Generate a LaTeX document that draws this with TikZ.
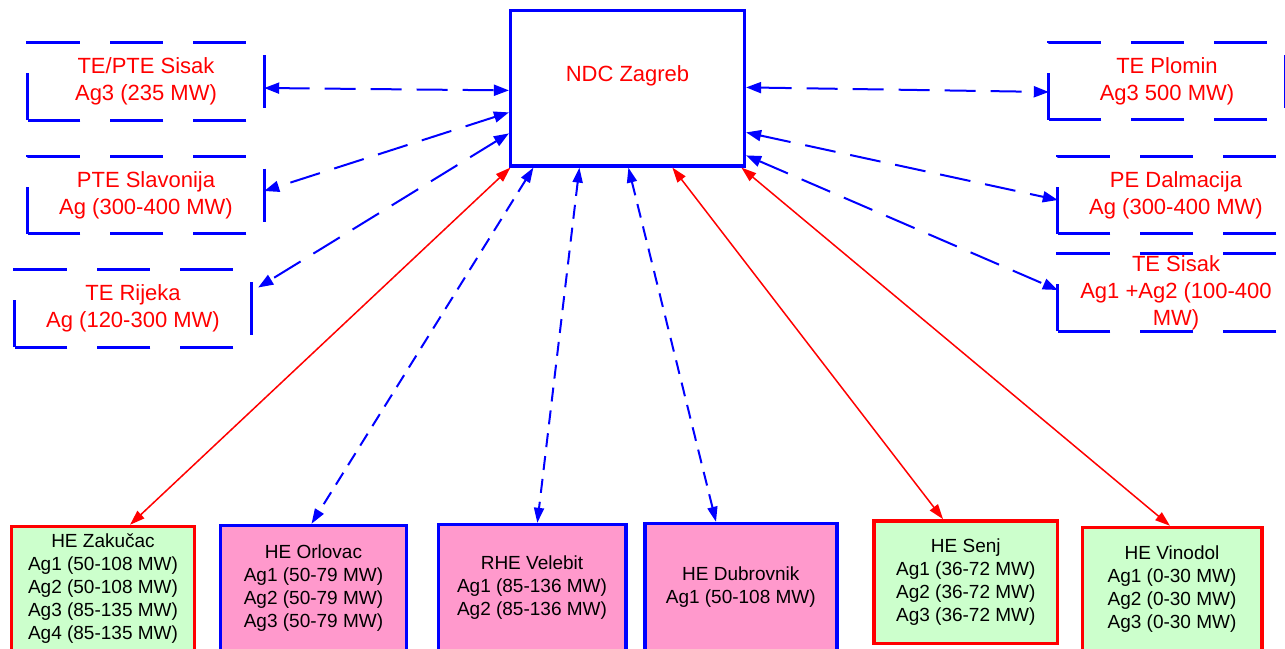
\documentclass[tikz,border=0pt]{standalone}
\usepackage{fontspec}
\setmainfont{Liberation Sans}
\usetikzlibrary{arrows.meta,calc}
\definecolor{pblue}{RGB}{0,0,255}
\definecolor{pred}{RGB}{255,0,0}
\definecolor{pgreen}{RGB}{204,255,204}
\definecolor{ppink}{RGB}{255,153,204}
\newcommand\dashframe[1]{\draw[dashbox] (#1.south west) -- (#1.north west) -- (#1.north east) -- (#1.south east) -- cycle;}
\begin{document}
\begin{tikzpicture}[x=1pt,y=-1pt,
  ndcbox/.style={draw=pblue, line width=3.2pt, fill=white, minimum width=234pt, minimum height=155.5pt,
    inner sep=0pt, text=pred, font=\fontsize{22}{27}\selectfont, text height=16pt, text depth=30pt},
  genbox/.style={minimum width=236pt, minimum height=77pt, inner sep=0pt, text=pred, align=center,
    font=\fontsize{22}{27}\selectfont},
  dashbox/.style={draw=pblue, line width=3pt, dash pattern=on 53pt off 30pt, dash phase=6pt},
  hebox/.style={line width=3.4pt, inner sep=0pt, align=center, font=\fontsize{19}{23}\selectfont, text=black},
  greenbox/.style={hebox, draw=pred, fill=pgreen},
  pinkbox/.style={hebox, draw=pblue, fill=ppink},
  longlink/.style={draw=pblue, line width=2pt, dash pattern=on 31pt off 15pt,
    {Triangle[length=15pt,width=11pt]}-{Triangle[length=15pt,width=11pt]}},
  shortlink/.style={draw=pblue, line width=2pt, dash pattern=on 14pt off 9pt,
    {Triangle[length=15pt,width=10pt]}-{Triangle[length=15pt,width=10pt]}},
  redlink/.style={draw=pred, line width=1.5pt,
    {Triangle[length=15pt,width=10pt]}-{Triangle[length=15pt,width=10pt]}}
]
\useasboundingbox (0,0) rectangle (1285,648);

% central node
\node[ndcbox] (ndc) at (627.5,88.25) {NDC Zagreb};

% left generators
\node[genbox] (sisak) at (146,81.5) {TE/PTE Sisak\\Ag3 (235 MW)};
\node[genbox] (slav) at (146,195) {PTE Slavonija\\Ag (300-400 MW)};
\node[genbox] (rijeka) at (133,308.5) {TE Rijeka\\Ag (120-300 MW)};
% right generators
\node[genbox] (plomin) at (1167,81) {TE Plomin\\Ag3 500 MW)};
\node[genbox] (dalm) at (1176,195) {PE Dalmacija\\Ag (300-400 MW)};
\node[genbox] (tesisak) at (1176,292.5) {TE Sisak\\Ag1 +Ag2 (100-400\\MW)};

\dashframe{sisak}
\dashframe{slav}
\dashframe{rijeka}
\dashframe{plomin}
\dashframe{dalm}
\dashframe{tesisak}

% bottom hydro plants
\node[greenbox, minimum width=183pt, minimum height=124.5pt] (zak) at (103,588.75)
  {HE Zakučac\\Ag1 (50-108 MW)\\Ag2 (50-108 MW)\\Ag3 (85-135 MW)\\Ag4 (85-135 MW)};
\node[pinkbox, minimum width=186pt, minimum height=125.5pt] (orl) at (313.5,588.25)
  {HE Orlovac\\Ag1 (50-79 MW)\\Ag2 (50-79 MW)\\Ag3 (50-79 MW)};
\node[pinkbox, minimum width=187.6pt, minimum height=126.5pt] (vel) at (532,587.75)
  {RHE Velebit\\Ag1 (85-136 MW)\\Ag2 (85-136 MW)};
\node[pinkbox, minimum width=192pt, minimum height=127.5pt] (dub) at (740.8,587.25)
  {HE Dubrovnik\\Ag1 (50-108 MW)};
\node[greenbox, minimum width=183.3pt, minimum height=122.7pt] (senj) at (965.8,582.2)
  {HE Senj\\Ag1 (36-72 MW)\\Ag2 (36-72 MW)\\Ag3 (36-72 MW)};
\node[greenbox, minimum width=179.6pt, minimum height=123.5pt] (vin) at (1172,589.25)
  {HE Vinodol\\Ag1 (0-30 MW)\\Ag2 (0-30 MW)\\Ag3 (0-30 MW)};

% left connectors
\draw[longlink] ($(sisak.east)+(0,6.5)$) -- ($(ndc.north west)+(0,81.5)$);
\draw[longlink] ($(ndc.north west)+(0,103.5)$) -- ($(slav.east)+(0,-4)$);
\draw[longlink] ($(ndc.north west)+(0,124.5)$) -- ($(rijeka.east)+(7,-21)$);
% right connectors
\draw[longlink] ($(ndc.north east)+(0,78.5)$) -- ($(plomin.west)+(0,11)$);
\draw[longlink] ($(ndc.north east)+(0,123.5)$) -- ($(dalm.west)+(0,5)$);
\draw[longlink] ($(ndc.north east)+(0,146.5)$) -- ($(tesisak.west)+(0,-2.5)$);

% bottom connectors
\draw[redlink] ($(ndc.south west)+(1.5,0)$) -- ($(zak.north)+(27,0)$);
\draw[shortlink] ($(ndc.south west)+(24.5,0)$) -- ($(orl.north)+(-2,0)$);
\draw[shortlink] ($(ndc.south west)+(70.5,0)$) -- ($(vel.north)+(5.3,0)$);
\draw[shortlink] ($(ndc.south west)+(119.5,0)$) -- ($(dub.north)+(-24.8,0)$);
\draw[redlink] ($(ndc.south west)+(163.5,0)$) -- ($(senj.north)+(-22.8,0)$);
\draw[redlink] ($(ndc.south west)+(232.5,0)$) -- ($(vin.north)+(-2,0)$);
\end{tikzpicture}
\end{document}
